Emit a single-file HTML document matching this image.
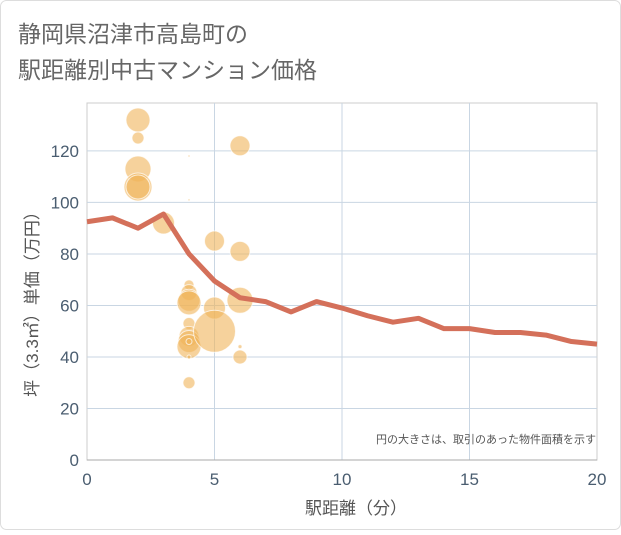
<!DOCTYPE html>
<html><head><meta charset="utf-8"><style>
body{margin:0;background:#fff;}
#wrap{position:relative;width:621px;height:530px;font-family:"Liberation Sans","Noto Sans CJK JP",sans-serif;}
</style></head><body>
<div id="wrap">
<svg id="chart" width="621" height="530" xmlns="http://www.w3.org/2000/svg">
<rect x="0.5" y="0.5" width="620" height="529" rx="6" fill="#fff" stroke="#ddd"/>
<text x="18" y="42" font-size="23" fill="#666" font-family="Liberation Sans, Noto Sans CJK JP, sans-serif">静岡県沼津市高島町の</text>
<text x="18" y="78" font-size="23" fill="#666" font-family="Liberation Sans, Noto Sans CJK JP, sans-serif">駅距離別中古マンション価格</text>
<g id="grid"></g><g id="bubbles"></g><g id="line"></g><g id="axes"></g>
<text x="596" y="443" font-size="11" fill="#555" text-anchor="end" font-family="Liberation Sans, Noto Sans CJK JP, sans-serif">円の大きさは、取引のあった物件面積を示す</text>
<text x="356" y="514" font-size="17" fill="#555" text-anchor="middle" font-family="Liberation Sans, Noto Sans CJK JP, sans-serif">駅距離（分）</text>
<text transform="translate(38,300) rotate(-90)" font-size="17" fill="#555" text-anchor="middle" font-family="Liberation Sans, Noto Sans CJK JP, sans-serif">坪（3.3㎡）単価（万円）</text>
</svg>
</div>
<script>
const xTicks=[0,5,10,15,20];
const yTicks=[0,20,40,60,80,100,120];
const lineX=[0,1,2,3,4,5,6,7,8,9,10,11,12,13,14,15,16,17,18,19,20];
const lineY=[92.5,94,90,95.5,80,69.5,63,61.5,57.5,61.5,59,56,53.5,55,51,51,49.5,49.5,48.5,46,45];
const bubX=[2,2,2,2,2,3,4,4,4,4,4,4,4,4,4,4,4,4,4,5,5,5,6,6,6,6,6];
const bubY=[132,125,113,106,106,92,118,101,68,65,62,61,53,48,46,44,46,40,30,85,59,50,122,81,62,44,40];
const bubR=[12,6,13,14,12,11,1,1,5,8,11,12,6,10,11,12,3,2,6,10,11,21,10,10,13,2,7];
const X0=87,X1=597,Y0=460,Y1=103;
const sx=v=>X0+(v-0)/20*(X1-X0);
const sy=v=>Y0-v/138.6*(Y0-Y1);
const NS='http://www.w3.org/2000/svg';
function mk(t,a,p){const e=document.createElementNS(NS,t);for(const k in a)e.setAttribute(k,a[k]);p.appendChild(e);return e;}
const grid=document.getElementById('grid'),axes=document.getElementById('axes');
mk('rect',{x:X0,y:Y1,width:X1-X0,height:Y0-Y1,fill:'none',stroke:'#ccc'},grid);
yTicks.forEach(t=>{if(t>0){const l=mk('line',{x1:X0,x2:X1,y1:sy(t),y2:sy(t),stroke:'#c9d6e3','stroke-width':1},grid);

}
const tx=mk('text',{x:X0-8,y:sy(t)+6,'font-size':17,fill:'#4a5d70','text-anchor':'end'},axes);tx.textContent=t;

});
xTicks.forEach(t=>{if(t>0&&t<20){const l=mk('line',{x1:sx(t),x2:sx(t),y1:Y1,y2:Y0,stroke:'#c9d6e3'},grid);

}
const tx=mk('text',{x:sx(t),y:Y0+25,'font-size':17,fill:'#4a5d70','text-anchor':'middle'},axes);tx.textContent=t;

});
const ax=mk('line',{x1:X0,x2:X1,y1:Y0,y2:Y0,stroke:'#aaa'},axes);


const bg=document.getElementById('bubbles');
bubX.forEach((x,i)=>{const c=mk('circle',{cx:sx(x),cy:sy(bubY[i]),r:bubR[i],fill:'rgba(240,180,90,0.6)',stroke:'rgba(255,255,255,0.7)','stroke-width':1},bg);

});
const pts=lineX.map((x,i)=>sx(x)+','+sy(lineY[i])).join(' ');
const pl=mk('polyline',{points:pts,fill:'none',stroke:'#d4705a','stroke-width':5,'stroke-linejoin':'round'},document.getElementById('line'));


</script>
</body></html>
